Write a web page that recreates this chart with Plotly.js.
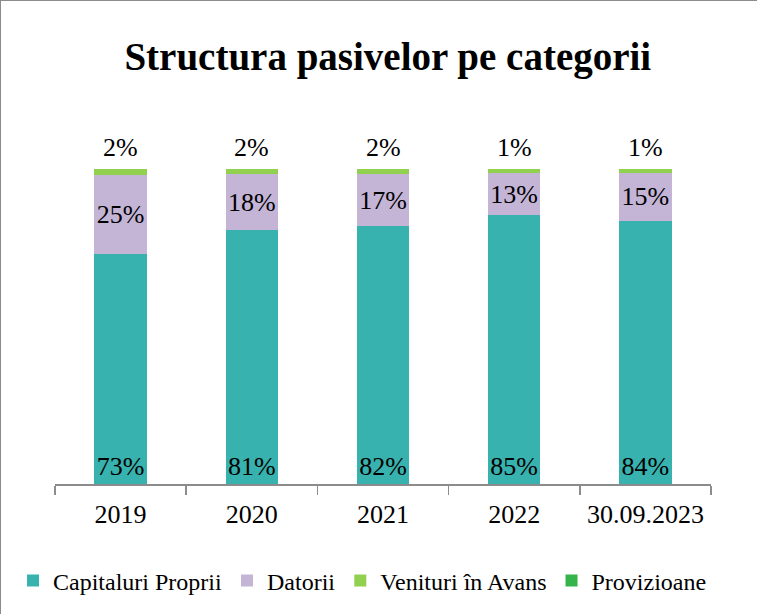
<!DOCTYPE html>
<html>
<head>
<meta charset="utf-8">
<script src="https://cdn.plot.ly/plotly-3.0.1.min.js"></script>
<style>
  html, body { margin: 0; padding: 0; background: #fff; }
  #chart { width: 757px; height: 614px; box-sizing: border-box; border: 1px solid #8c8c8c; }
</style>
</head>
<body>
<div id="chart"></div>
<script>
var config = { displayModeBar: false, staticPlot: true };

// data (percent of total liabilities)
var years = ['2019', '2020', '2021', '2022', '30.09.2023'];
var capitaluri = [73.0, 80.6, 81.8, 85.3, 83.6];
var datorii = [25.0, 17.7, 16.6, 13.4, 15.1];
var venituri = [2.0, 1.7, 1.6, 1.3, 1.3];
var provizioane = [0.0, 0.0, 0.0, 0.0, 0.0];

var serif = 'Liberation Serif, serif';
var labelFont = { family: serif, size: 26, color: '#000' };

var traces = [{
  name: 'Capitaluri Proprii',
  x: years, y: capitaluri, type: 'bar',
  marker: { color: '#38B2AE' },
  texttemplate: '%{y:.0f}%',
  textposition: 'inside',
  insidetextanchor: 'start',
  textangle: 0, constraintext: 'none',
  textfont: labelFont
}, {
  name: 'Datorii',
  x: years, y: datorii, type: 'bar',
  marker: { color: '#C4B5D7' },
  texttemplate: '%{y:.0f}%',
  textposition: 'inside',
  insidetextanchor: 'middle',
  textangle: 0, constraintext: 'none',
  textfont: labelFont
}, {
  name: 'Venituri în Avans',
  x: years, y: venituri, type: 'bar',
  marker: { color: '#92D050' },
  textposition: 'none'
}, {
  name: 'Provizioane',
  x: years, y: provizioane, type: 'bar',
  marker: { color: '#35B44C' },
  textposition: 'none'
}];

// labels above the stacks, for Venituri in Avans
var annotations = years.map(function (yr, i) {
  var total = capitaluri[i] + datorii[i] + venituri[i] + provizioane[i];
  return {
    x: i, y: total, xref: 'x', yref: 'y',
    text: venituri[i].toFixed(0) + '%',
    showarrow: false, yanchor: 'bottom', yshift: 5,
    font: labelFont
  };
});

var layout = {
  width: 757, height: 614,
  paper_bgcolor: '#fff', plot_bgcolor: '#fff',
  font: { family: serif, color: '#000' },
  title: {
    text: '<b>Structura pasivelor pe categorii</b>',
    font: { family: serif, size: 39, color: '#000' },
    x: 0.511, xanchor: 'center', y: 0.91, yanchor: 'middle'
  },
  barmode: 'stack',
  bargap: 0.6,
  margin: { l: 52, r: 47, t: 168, b: 125 },
  xaxis: {
    type: 'category',
    categoryorder: 'array', categoryarray: years,
    showline: true, linecolor: '#8c8c8c', linewidth: 1.5,
    ticks: 'outside', tickson: 'boundaries', ticklen: 9, tickcolor: '#8c8c8c', tickwidth: 1.5,
    ticklabelstandoff: 6,
    tickfont: { family: serif, size: 26, color: '#000' },
    showgrid: false, fixedrange: true
  },
  yaxis: {
    range: [0, 100], visible: false, showgrid: false, zeroline: false, fixedrange: true
  },
  showlegend: true,
  legend: {
    orientation: 'h',
    x: -0.064, xanchor: 'left', y: -0.308, yanchor: 'middle',
    font: { family: serif, size: 24, color: '#000' },
    itemwidth: 30, traceorder: 'normal'
  },
  annotations: annotations
};

Plotly.newPlot('chart', traces, layout, config);
</script>
</body>
</html>
